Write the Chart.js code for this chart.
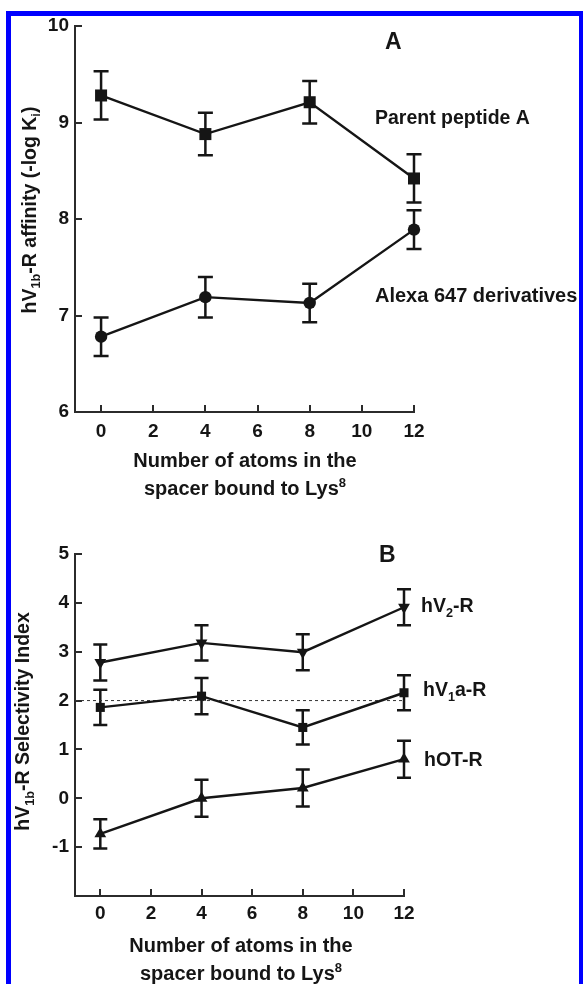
<!DOCTYPE html>
<html>
<head>
<meta charset="utf-8">
<title>hV1b-R affinity and selectivity vs spacer length</title>
<script src="https://cdn.jsdelivr.net/npm/chart.js@4.4.1/dist/chart.umd.min.js"></script>
<style>
  body { margin: 0; background: #fff; }
  #page { position: relative; width: 583px; height: 984px; overflow: hidden; background: #fff; }
  #frame { position: absolute; left: 6px; top: 11px; width: 578px; height: 1000px; border: 5px solid #0000ff; box-sizing: border-box; }
  canvas { position: absolute; left: 0; }
  #chartA { top: 0; }
  #chartB { top: 505px; }
</style>
</head>
<body>
<div id="page">
  <div id="frame"></div>
  <canvas id="chartA" width="583" height="505"></canvas>
  <canvas id="chartB" width="583" height="479"></canvas>
</div>
<script>
// Number of atoms in the spacer (x axis)
const spacerAtoms = [0, 4, 8, 12];
const xTicks = [0, 2, 4, 6, 8, 10, 12];

// Panel A: hV1b-R affinity (-log Ki)
const parentAffinity = [9.28, 8.88, 9.21, 8.42];
const parentError = [0.25, 0.22, 0.22, 0.25];
const alexaAffinity = [6.78, 7.19, 7.13, 7.89];
const alexaError = [0.20, 0.21, 0.20, 0.20];
const yTicksA = [6, 7, 8, 9, 10];

// Panel B: hV1b-R selectivity index
const v2Index = [2.78, 3.18, 2.99, 3.91];
const v2Error = [0.37, 0.36, 0.37, 0.37];
const v1aIndex = [1.86, 2.09, 1.45, 2.16];
const v1aError = [0.36, 0.37, 0.35, 0.36];
const otIndex = [-0.73, 0.0, 0.21, 0.80];
const otError = [0.30, 0.38, 0.38, 0.38];
const yTicksB = [-1, 0, 1, 2, 3, 4, 5];
const selectivityLine = 2;

const ink = '#151515';
const axisInk = '#2b2b2b';
const family = '"Liberation Sans", Arial, Helvetica, sans-serif';
const tickFont = { family: family, size: 19, weight: 'bold' };

const toPoints = (xs, ys) => xs.map((x, i) => ({ x: x, y: ys[i] }));

// text built from plain / sub / sup pieces, y is the baseline
function drawRich(ctx, t) {
  const small = t.size * 0.65;
  const fontOf = p => 'bold ' + (p[1] ? small : t.size) + 'px ' + family;
  ctx.save();
  ctx.translate(t.x, t.y);
  if (t.rotate) ctx.rotate(t.rotate);
  ctx.fillStyle = ink;
  ctx.textBaseline = 'alphabetic';
  ctx.textAlign = 'left';
  let total = 0;
  t.parts.forEach(p => { ctx.font = fontOf(p); total += ctx.measureText(p[0]).width; });
  let cx = t.align === 'center' ? -total / 2 : 0;
  t.parts.forEach(p => {
    ctx.font = fontOf(p);
    const dy = p[1] === 'sub' ? t.size * 0.25 : p[1] === 'sup' ? -t.size * 0.42 : 0;
    ctx.fillText(p[0], cx, dy);
    cx += ctx.measureText(p[0]).width;
  });
  ctx.restore();
}

// vertical error bars with caps
const errorBars = (capHalf) => ({
  id: 'errorBars',
  beforeDatasetsDraw(chart) {
    const ctx = chart.ctx;
    const xs = chart.scales.x, ys = chart.scales.y;
    ctx.save();
    ctx.strokeStyle = ink;
    ctx.lineWidth = 2.5;
    chart.data.datasets.forEach(ds => {
      if (!ds.errorBars) return;
      ds.data.forEach((p, j) => {
        const px = xs.getPixelForValue(p.x);
        const top = ys.getPixelForValue(p.y + ds.errorBars[j]);
        const bottom = ys.getPixelForValue(p.y - ds.errorBars[j]);
        ctx.beginPath();
        ctx.moveTo(px, top); ctx.lineTo(px, bottom);
        ctx.moveTo(px - capHalf, top); ctx.lineTo(px + capHalf, top);
        ctx.moveTo(px - capHalf, bottom); ctx.lineTo(px + capHalf, bottom);
        ctx.stroke();
      });
    });
    ctx.restore();
  }
});

// tick marks pointing into the plot
const innerTicks = (len) => ({
  id: 'innerTicks',
  beforeDatasetsDraw(chart) {
    const ctx = chart.ctx, a = chart.chartArea;
    const xs = chart.scales.x, ys = chart.scales.y;
    ctx.save();
    ctx.strokeStyle = axisInk;
    ctx.lineWidth = 2;
    ctx.beginPath();
    xs.ticks.forEach(t => {
      const px = Math.round(xs.getPixelForValue(t.value));
      ctx.moveTo(px, a.bottom); ctx.lineTo(px, a.bottom - len);
    });
    ys.ticks.forEach(t => {
      const py = Math.round(ys.getPixelForValue(t.value));
      ctx.moveTo(a.left, py); ctx.lineTo(a.left + len, py);
    });
    ctx.stroke();
    ctx.restore();
  }
});

const textLayer = (items) => ({
  id: 'textLayer',
  afterDraw(chart) { items.forEach(t => drawRich(chart.ctx, t)); }
});

function scales(yMin, yMax, yTicks, yWidth, xHeight, xPad) {
  return {
    x: {
      type: 'linear', min: -1, max: 12,
      afterBuildTicks: s => { s.ticks = xTicks.map(v => ({ value: v })); },
      afterFit: s => { s.height = xHeight; },
      grid: { display: false, drawTicks: false },
      border: { display: true, width: 2, color: axisInk },
      ticks: { font: tickFont, color: ink, padding: xPad, maxRotation: 0, autoSkip: false, callback: v => String(v) }
    },
    y: {
      type: 'linear', min: yMin, max: yMax,
      afterBuildTicks: s => { s.ticks = yTicks.map(v => ({ value: v })); },
      afterFit: s => { s.width = yWidth; },
      grid: { display: false, drawTicks: false },
      border: { display: true, width: 2, color: axisInk },
      ticks: { font: tickFont, color: ink, padding: 6, autoSkip: false, callback: v => String(v) }
    }
  };
}

function series(xs, ys, errs, style, radius, rotation) {
  return {
    data: toPoints(xs, ys),
    errorBars: errs,
    clip: false,
    borderColor: ink,
    borderWidth: 2.4,
    pointStyle: style,
    pointRadius: radius,
    pointHoverRadius: radius,
    pointRotation: rotation || 0,
    pointBackgroundColor: ink,
    pointBorderWidth: 0
  };
}

const common = {
  responsive: false,
  animation: false,
  plugins: { legend: { display: false }, tooltip: { enabled: false } }
};

// Panel A
new Chart(document.getElementById('chartA'), {
  type: 'line',
  data: {
    datasets: [
      series(spacerAtoms, parentAffinity, parentError, 'rect', 8.5),
      series(spacerAtoms, alexaAffinity, alexaError, 'circle', 6.2)
    ]
  },
  options: Object.assign({}, common, {
    layout: { padding: { left: 0, top: 26, right: 169, bottom: 0 } },
    scales: scales(6, 10, yTicksA, 75, 93, 8)
  }),
  plugins: [errorBars(7.5), innerTicks(7), textLayer([
    { parts: [['hV'], ['1b', 'sub'], ['-R affinity (-log K'], ['i', 'sub'], [')']], x: 35.5, y: 210, size: 19.5, align: 'center', rotate: -Math.PI / 2 },
    { parts: [['Number of atoms in the']], x: 245, y: 467, size: 20, align: 'center' },
    { parts: [['spacer bound to Lys'], ['8', 'sup']], x: 245, y: 495, size: 20, align: 'center' },
    { parts: [['A']], x: 385, y: 49, size: 23 },
    { parts: [['Parent peptide A']], x: 375, y: 124, size: 19.5 },
    { parts: [['Alexa 647 derivatives']], x: 375, y: 302, size: 20 }
  ])]
});

// Panel B
const thresholdSet = {
  data: [{ x: -1, y: selectivityLine }, { x: 12, y: selectivityLine }],
  borderColor: '#333',
  borderWidth: 1,
  borderDash: [3, 3],
  pointRadius: 0,
  order: 10
};

new Chart(document.getElementById('chartB'), {
  type: 'line',
  data: {
    datasets: [
      series(spacerAtoms, v2Index, v2Error, 'triangle', 6.8, 180),
      series(spacerAtoms, v1aIndex, v1aError, 'rect', 6.4),
      series(spacerAtoms, otIndex, otError, 'triangle', 6.8),
      thresholdSet
    ]
  },
  options: Object.assign({}, common, {
    layout: { padding: { left: 0, top: 49, right: 179, bottom: 0 } },
    scales: scales(-2, 5, yTicksB, 75, 88, 6)
  }),
  plugins: [errorBars(7), innerTicks(7), textLayer([
    { parts: [['hV'], ['1b', 'sub'], ['-R Selectivity Index']], x: 29, y: 216.5, size: 19.5, align: 'center', rotate: -Math.PI / 2 },
    { parts: [['Number of atoms in the']], x: 241, y: 447, size: 20, align: 'center' },
    { parts: [['spacer bound to Lys'], ['8', 'sup']], x: 241, y: 475, size: 20, align: 'center' },
    { parts: [['B']], x: 379, y: 57, size: 23 },
    { parts: [['hV'], ['2', 'sub'], ['-R']], x: 421, y: 107, size: 19.5 },
    { parts: [['hV'], ['1', 'sub'], ['a-R']], x: 423, y: 191, size: 19.5 },
    { parts: [['hOT-R']], x: 424, y: 261, size: 19.5 }
  ])]
});
</script>
</body>
</html>
